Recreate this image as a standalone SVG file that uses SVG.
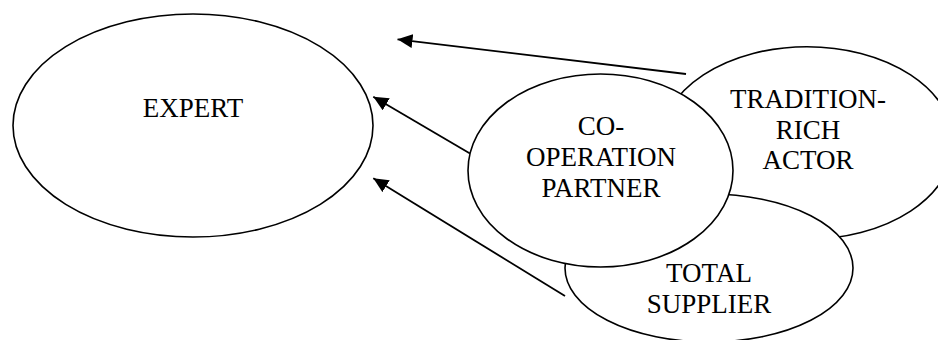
<svg xmlns="http://www.w3.org/2000/svg" width="938" height="340" viewBox="0 0 938 340">
  <style>
    .node { fill: #fff; stroke: #000; stroke-width: 1.6; }
    .label { font-family: "Liberation Serif", "Times New Roman", serif; font-size: 27px; fill: #000; text-anchor: middle; }
    .edge { fill: none; stroke: #000; stroke-width: 1.8; marker-end: url(#arrow); }
  </style>
  <defs>
    <marker id="arrow" viewBox="0 0 15 14" refX="15" refY="7" markerWidth="15" markerHeight="14" markerUnits="userSpaceOnUse" orient="auto">
      <path d="M0,0 L15,7 L0,14 Z" fill="#000"/>
    </marker>
  </defs>

  <rect width="938" height="340" fill="#fff"/>

  <g id="tradition-rich-actor">
    <ellipse class="node" cx="807" cy="143" rx="146.5" ry="96.3"/>
    <text class="label" x="808" y="108">TRADITION-</text>
    <text class="label" x="808" y="139">RICH</text>
    <text class="label" x="808" y="169">ACTOR</text>
  </g>

  <g id="total-supplier">
    <ellipse class="node" cx="709" cy="268" rx="144" ry="74"/>
    <text class="label" x="709" y="282">TOTAL</text>
    <text class="label" x="709" y="313">SUPPLIER</text>
  </g>

  <g id="co-operation-partner">
    <ellipse class="node" cx="600.5" cy="170.5" rx="132.5" ry="96.5"/>
    <text class="label" x="601" y="135">CO-</text>
    <text class="label" x="601" y="166">OPERATION</text>
    <text class="label" x="601" y="197">PARTNER</text>
  </g>

  <g id="expert">
    <ellipse class="node" cx="193" cy="125.5" rx="180" ry="111.5"/>
    <text class="label" x="193" y="117">EXPERT</text>
  </g>

  <g id="connectors">
    <line class="edge" x1="686" y1="74" x2="397.5" y2="39.3"/>
    <line class="edge" x1="470" y1="153.5" x2="373.3" y2="96.7"/>
    <line class="edge" x1="565" y1="296" x2="373.3" y2="178.3"/>
  </g>
</svg>
